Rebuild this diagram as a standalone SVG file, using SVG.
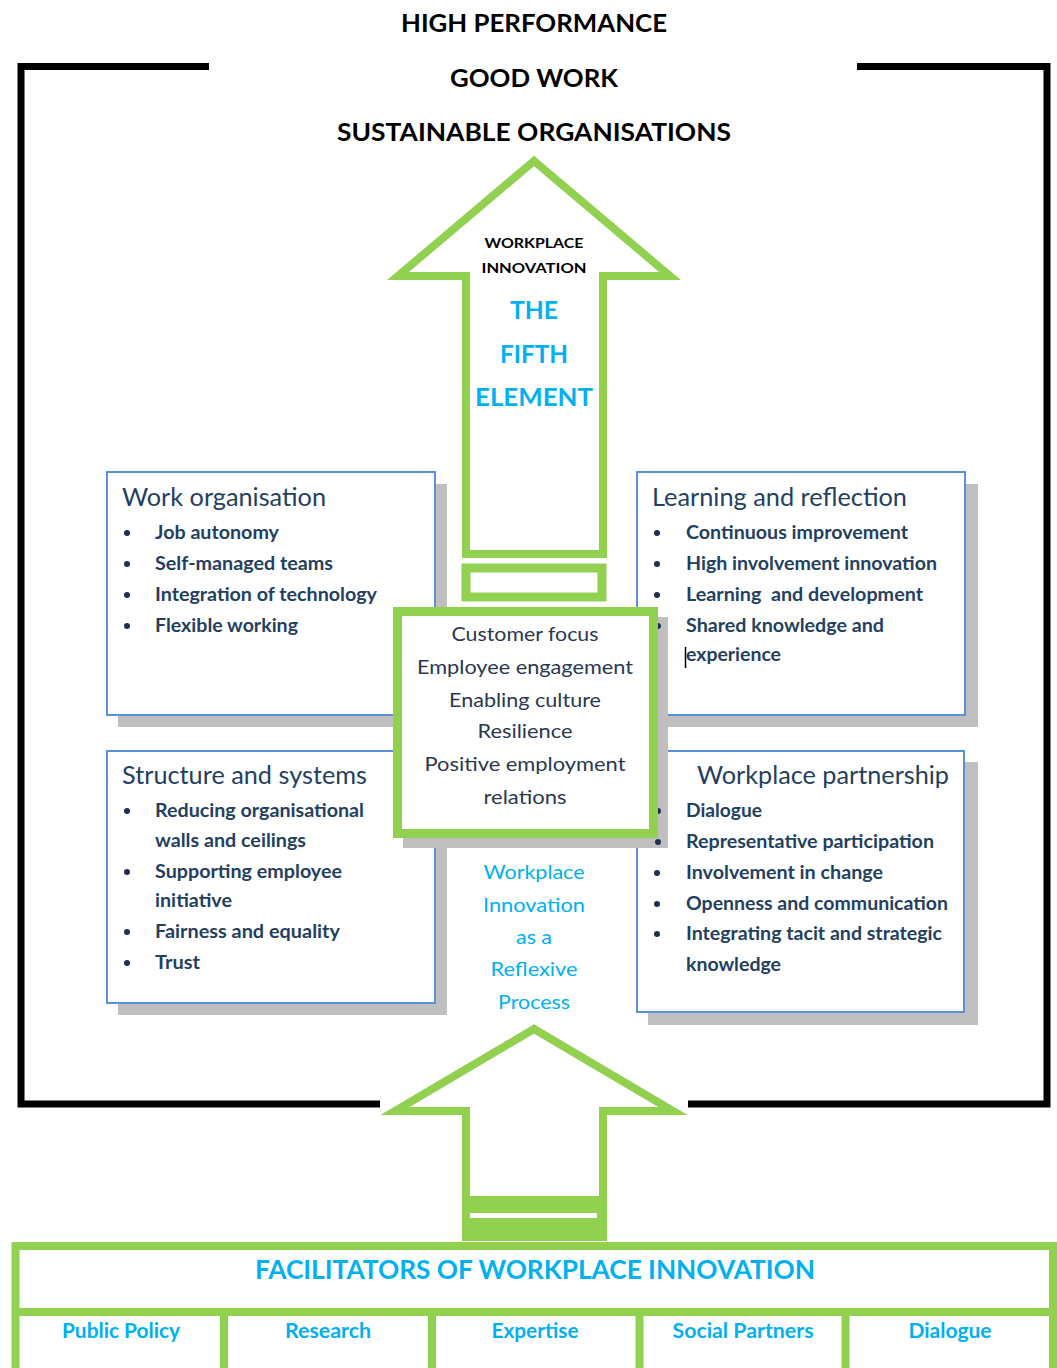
<svg xmlns="http://www.w3.org/2000/svg" width="1057" height="1368" viewBox="0 0 1057 1368">
<style>
text{font-family:Lato,"Open Sans","Liberation Sans",sans-serif}
.hd{font-size:25px;font-weight:700;fill:#000;text-anchor:middle}
.ttl{font-size:25px;fill:#243F60}
.bl{font-size:18px;font-weight:700;fill:#243F60}
.dot{fill:#1F2F4F}
.ctr{font-size:20px;fill:#2A3850;text-anchor:middle}
.cyan{fill:#00B0F0;text-anchor:middle}
.box{fill:#fff;stroke:#5B8FD8;stroke-width:2}
.shd{fill:#BFBFBF}
.grn{fill:none;stroke:#92D050;stroke-width:8}
.frame{fill:none;stroke:#000;stroke-width:7}
</style>
<rect width="1057" height="1368" fill="#fff"/>

<g id="titles">
<text class="hd" x="534" y="32" textLength="266" lengthAdjust="spacingAndGlyphs">HIGH PERFORMANCE</text>
<text class="hd" x="534" y="87" textLength="168" lengthAdjust="spacingAndGlyphs">GOOD WORK</text>
<text class="hd" x="534" y="141" textLength="394" lengthAdjust="spacingAndGlyphs">SUSTAINABLE ORGANISATIONS</text>
</g>

<g id="frame">
<path class="frame" d="M209,66.5 H21 V1104 H380"/>
<path class="frame" d="M857,66.5 H1047 V1104 H688"/>
</g>

<g id="work-organisation">
<rect class="shd" x="118" y="484" width="329" height="243"/>
<rect class="box" x="107" y="472" width="328" height="243"/>
<text class="ttl" x="122" y="506" textLength="204" lengthAdjust="spacingAndGlyphs">Work organisation</text>
<circle class="dot" cx="127" cy="533" r="3"/><text class="bl" x="155" y="539" textLength="124" lengthAdjust="spacingAndGlyphs">Job autonomy</text>
<circle class="dot" cx="127" cy="564" r="3"/><text class="bl" x="155" y="570" textLength="178" lengthAdjust="spacingAndGlyphs">Self-managed teams</text>
<circle class="dot" cx="127" cy="595" r="3"/><text class="bl" x="155" y="601" textLength="222" lengthAdjust="spacingAndGlyphs">Integration of technology</text>
<circle class="dot" cx="127" cy="626" r="3"/><text class="bl" x="155" y="632" textLength="143" lengthAdjust="spacingAndGlyphs">Flexible working</text>
</g>

<g id="learning-and-reflection">
<rect class="shd" x="648" y="484" width="330" height="243"/>
<rect class="box" x="637" y="472" width="328" height="243"/>
<text class="ttl" x="652" y="506" textLength="255" lengthAdjust="spacingAndGlyphs">Learning and reflection</text>
<circle class="dot" cx="657" cy="533" r="3"/><text class="bl" x="686" y="539" textLength="222" lengthAdjust="spacingAndGlyphs">Continuous improvement</text>
<circle class="dot" cx="657" cy="564" r="3"/><text class="bl" x="686" y="570" textLength="251" lengthAdjust="spacingAndGlyphs">High involvement innovation</text>
<circle class="dot" cx="657" cy="595" r="3"/><text class="bl" x="686" y="601" textLength="237" lengthAdjust="spacingAndGlyphs" xml:space="preserve">Learning  and development</text>
<text class="bl" x="686" y="632" textLength="198" lengthAdjust="spacingAndGlyphs">Shared knowledge and</text>
<text class="bl" x="686" y="661" textLength="95" lengthAdjust="spacingAndGlyphs">experience</text>
<line x1="685.5" y1="647" x2="685.5" y2="668" stroke="#000" stroke-width="1.5"/>
</g>

<g id="structure-and-systems">
<rect class="shd" x="118" y="762" width="329" height="253"/>
<rect class="box" x="107" y="751" width="328" height="252"/>
<text class="ttl" x="122" y="784" textLength="245" lengthAdjust="spacingAndGlyphs">Structure and systems</text>
<circle class="dot" cx="127" cy="811" r="3"/><text class="bl" x="155" y="817" textLength="209" lengthAdjust="spacingAndGlyphs">Reducing organisational</text>
<text class="bl" x="155" y="847" textLength="151" lengthAdjust="spacingAndGlyphs">walls and ceilings</text>
<circle class="dot" cx="127" cy="872" r="3"/><text class="bl" x="155" y="878" textLength="187" lengthAdjust="spacingAndGlyphs">Supporting employee</text>
<text class="bl" x="155" y="907" textLength="77" lengthAdjust="spacingAndGlyphs">initiative</text>
<circle class="dot" cx="127" cy="932" r="3"/><text class="bl" x="155" y="938" textLength="185" lengthAdjust="spacingAndGlyphs">Fairness and equality</text>
<circle class="dot" cx="127" cy="963" r="3"/><text class="bl" x="155" y="969" textLength="45" lengthAdjust="spacingAndGlyphs">Trust</text>
</g>

<g id="workplace-partnership">
<rect class="shd" x="648" y="762" width="330" height="263"/>
<rect class="box" x="637" y="751" width="327" height="261"/>
<text class="ttl" x="697" y="784" textLength="252" lengthAdjust="spacingAndGlyphs">Workplace partnership</text>
<text class="bl" x="686" y="817" textLength="76" lengthAdjust="spacingAndGlyphs">Dialogue</text>
<text class="bl" x="686" y="848" textLength="248" lengthAdjust="spacingAndGlyphs">Representative participation</text>
<circle class="dot" cx="657" cy="873" r="3"/><text class="bl" x="686" y="879" textLength="197" lengthAdjust="spacingAndGlyphs">Involvement in change</text>
<circle class="dot" cx="657" cy="904" r="3"/><text class="bl" x="686" y="910" textLength="262" lengthAdjust="spacingAndGlyphs">Openness and communication</text>
<circle class="dot" cx="657" cy="934" r="3"/><text class="bl" x="686" y="940" textLength="256" lengthAdjust="spacingAndGlyphs">Integrating tacit and strategic</text>
<text class="bl" x="686" y="971" textLength="95" lengthAdjust="spacingAndGlyphs">knowledge</text>
</g>

<g id="core">
<rect class="shd" x="403" y="617" width="265" height="231"/>
<circle class="dot" cx="658" cy="626" r="3"/>
<circle class="dot" cx="658" cy="811" r="3"/>
<circle class="dot" cx="658" cy="842" r="3"/>
<rect x="397.5" y="611.5" width="256" height="222" fill="#fff" stroke="#92D050" stroke-width="9"/>
<text class="ctr" x="525" y="641" textLength="147" lengthAdjust="spacingAndGlyphs">Customer focus</text>
<text class="ctr" x="525" y="674" textLength="216" lengthAdjust="spacingAndGlyphs">Employee engagement</text>
<text class="ctr" x="525" y="707" textLength="152" lengthAdjust="spacingAndGlyphs">Enabling culture</text>
<text class="ctr" x="525" y="738" textLength="95" lengthAdjust="spacingAndGlyphs">Resilience</text>
<text class="ctr" x="525" y="771" textLength="201" lengthAdjust="spacingAndGlyphs">Positive employment</text>
<text class="ctr" x="525" y="804" textLength="83" lengthAdjust="spacingAndGlyphs">relations</text>
</g>

<g id="connectors">
<g id="fifth-element-arrow">
<polygon class="grn" points="534,161 398,276 466,276 466,554 603,554 603,276 670,276" fill="#fff"/>
<rect x="466" y="568" width="136" height="29" fill="#fff" stroke="#92D050" stroke-width="9"/>
</g>
<g id="facilitators-arrow">
<polygon class="grn" points="534,1029 395,1111 466,1111 466,1200 603,1200 603,1111 673,1111" fill="#fff"/>
<rect x="462" y="1198" width="145" height="43" fill="#92D050"/>
<rect x="470" y="1213" width="127" height="5" fill="#fff"/>
</g>
</g>

<g id="fifth-element-text">
<text x="534" y="248" font-size="14" font-weight="700" fill="#000" text-anchor="middle" textLength="99" lengthAdjust="spacingAndGlyphs">WORKPLACE</text>
<text x="534" y="273" font-size="14" font-weight="700" fill="#000" text-anchor="middle" textLength="105" lengthAdjust="spacingAndGlyphs">INNOVATION</text>
<text class="cyan" x="534" y="319" font-size="25" font-weight="700" textLength="48" lengthAdjust="spacingAndGlyphs">THE</text>
<text class="cyan" x="534" y="363" font-size="25" font-weight="700" textLength="68" lengthAdjust="spacingAndGlyphs">FIFTH</text>
<text class="cyan" x="534" y="406" font-size="25" font-weight="700" textLength="118" lengthAdjust="spacingAndGlyphs">ELEMENT</text>
</g>

<g id="reflexive-process">
<text class="cyan" x="534" y="879" font-size="20" textLength="101" lengthAdjust="spacingAndGlyphs">Workplace</text>
<text class="cyan" x="534" y="912" font-size="20" textLength="102" lengthAdjust="spacingAndGlyphs">Innovation</text>
<text class="cyan" x="534" y="944" font-size="20" textLength="36" lengthAdjust="spacingAndGlyphs">as a</text>
<text class="cyan" x="534" y="976" font-size="20" textLength="87" lengthAdjust="spacingAndGlyphs">Reflexive</text>
<text class="cyan" x="534" y="1009" font-size="20" textLength="72" lengthAdjust="spacingAndGlyphs">Process</text>
</g>

<g id="facilitators">
<rect x="15.5" y="1246" width="1037.5" height="140" fill="#fff" stroke="#92D050" stroke-width="8"/>
<line x1="15" y1="1312" x2="1053" y2="1312" stroke="#92D050" stroke-width="8"/>
<line x1="224" y1="1312" x2="224" y2="1368" stroke="#92D050" stroke-width="8"/>
<line x1="432" y1="1312" x2="432" y2="1368" stroke="#92D050" stroke-width="8"/>
<line x1="639.5" y1="1312" x2="639.5" y2="1368" stroke="#92D050" stroke-width="8"/>
<line x1="845.5" y1="1312" x2="845.5" y2="1368" stroke="#92D050" stroke-width="8"/>
<text class="cyan" x="535" y="1279" font-size="26" font-weight="700" textLength="560" lengthAdjust="spacingAndGlyphs">FACILITATORS OF WORKPLACE INNOVATION</text>
<text class="cyan" x="121" y="1338" font-size="20" font-weight="700" textLength="118" lengthAdjust="spacingAndGlyphs">Public Policy</text>
<text class="cyan" x="328" y="1338" font-size="20" font-weight="700" textLength="86" lengthAdjust="spacingAndGlyphs">Research</text>
<text class="cyan" x="535" y="1338" font-size="20" font-weight="700" textLength="87" lengthAdjust="spacingAndGlyphs">Expertise</text>
<text class="cyan" x="743" y="1338" font-size="20" font-weight="700" textLength="141" lengthAdjust="spacingAndGlyphs">Social Partners</text>
<text class="cyan" x="950" y="1338" font-size="20" font-weight="700" textLength="83" lengthAdjust="spacingAndGlyphs">Dialogue</text>
</g>
</svg>
